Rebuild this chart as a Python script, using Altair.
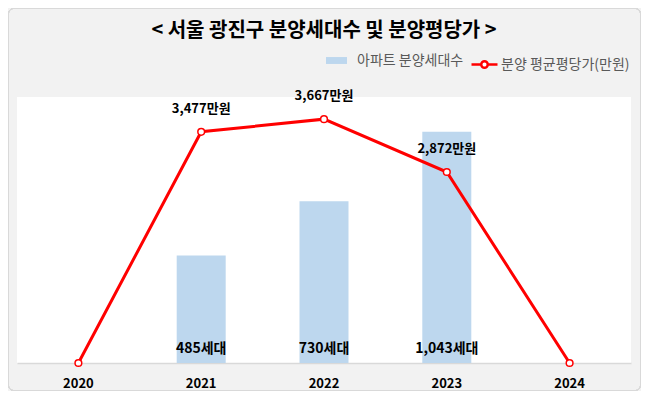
import altair as alt
import pandas as pd

years = ["2020", "2021", "2022", "2023", "2024"]
units = [0, 485, 730, 1043, 0]
prices = [0, 3477, 3667, 2872, 0]
unit_labels = ["", "485세대", "730세대", "1,043세대", ""]
price_labels = ["", "3,477만원", "3,667만원", "2,872만원", ""]
bar_series = "아파트 분양세대수"
line_series = "분양 평균평당가(만원)"
title_text = "< 서울 광진구 분양세대수 및 분양평당가 >"

FONT = "Noto Sans CJK KR"

df = pd.DataFrame({
    "year": years,
    "units": units,
    "prices": prices,
    "unit_label": unit_labels,
    "price_label": price_labels,
    "s1": [bar_series] * len(years),
    "s2": [line_series] * len(years),
})

x = alt.X(
    "year:N",
    sort=years,
    scale=alt.Scale(paddingInner=0, paddingOuter=0),
    axis=alt.Axis(
        title=None, labelAngle=0, labelFont=FONT, labelFontWeight="bold",
        labelFontSize=13, labelColor="#000000", domainColor="#d9d9d9",
        domainWidth=1.5, ticks=False, labelPadding=14,
    ),
)

ybar = alt.Y("units:Q", scale=alt.Scale(domain=[0, 1200], nice=False), axis=None)
yline = alt.Y("prices:Q", scale=alt.Scale(domain=[0, 4000], nice=False), axis=None)

base = alt.Chart(df)

bars = base.mark_bar(size=49).encode(
    x=x,
    y=ybar,
    color=alt.Color(
        "s1:N",
        scale=alt.Scale(domain=[bar_series], range=["#bdd7ee"]),
        legend=alt.Legend(
            title=None, orient="none", legendX=309, legendY=-47, padding=0,
            labelFont=FONT, labelFontSize=14, labelColor="#595959",
            labelOffset=10, symbolType="M-1,-0.33H1V0.33H-1Z", symbolSize=441,
            symbolStrokeWidth=0,
        ),
    ),
)

bar_text = base.transform_filter(alt.datum.units > 0).mark_text(
    font=FONT, fontSize=14, fontWeight="bold", color="#000000",
    baseline="middle", dy=-14,
).encode(x=x, y=alt.datum(0, scale=alt.Scale(domain=[0, 1200], nice=False)), text="unit_label:N")

bar_layer = alt.layer(bars, bar_text)

line = base.mark_line(
    strokeWidth=3,
    point=alt.OverlayMarkDef(filled=True, fill="white", stroke="#ff0000", strokeWidth=1.5, size=45),
).encode(
    x=x,
    y=yline,
    stroke=alt.Stroke(
        "s2:N",
        scale=alt.Scale(domain=[line_series], range=["#ff0000"]),
        legend=alt.Legend(
            title=None, orient="none", legendX=453, legendY=-47, padding=0,
            labelFont=FONT, labelFontSize=14, labelColor="#595959",
            labelOffset=2,
            symbolType="M-1,0H-0.25M0.25,0H1M-0.25,0A0.25,0.25,0,1,1,0.25,0A0.25,0.25,0,1,1,-0.25,0",
            symbolSize=676, symbolStrokeWidth=2.5, symbolFillColor="white",
            symbolStrokeColor="#ff0000",
        ),
    ),
)

line_text = base.transform_filter(alt.datum.prices > 0).mark_text(
    font=FONT, fontSize=13, fontWeight="bold", color="#000000",
    baseline="middle", dy=-23,
).encode(x=x, y=yline, text="price_label:N")

line_layer = alt.layer(line, line_text)

border = alt.Chart(df).mark_rect(
    fillOpacity=0, stroke="#d9d9d9", strokeWidth=1, cornerRadius=5,
).encode(
    x=alt.value(-8.5), x2=alt.value(623.5), y=alt.value(-88.5), y2=alt.value(293.5),
)

chart = alt.layer(border, bar_layer, line_layer).resolve_scale(
    y="independent", color="independent", stroke="independent"
).properties(
    width=614,
    height=266,
    autosize=alt.AutoSizeParams(type="none"),
    padding={"left": 9, "top": 89, "right": 10, "bottom": 28},
    background="#f2f2f2",
    title=alt.TitleParams(
        title_text, font=FONT, fontSize=20, fontWeight="bold", color="#000000",
        anchor="middle", offset=-33,
    ),
).configure_view(fill="white", stroke=None)

chart.save("out.html", embed_options={"renderer": "svg", "actions": False})
